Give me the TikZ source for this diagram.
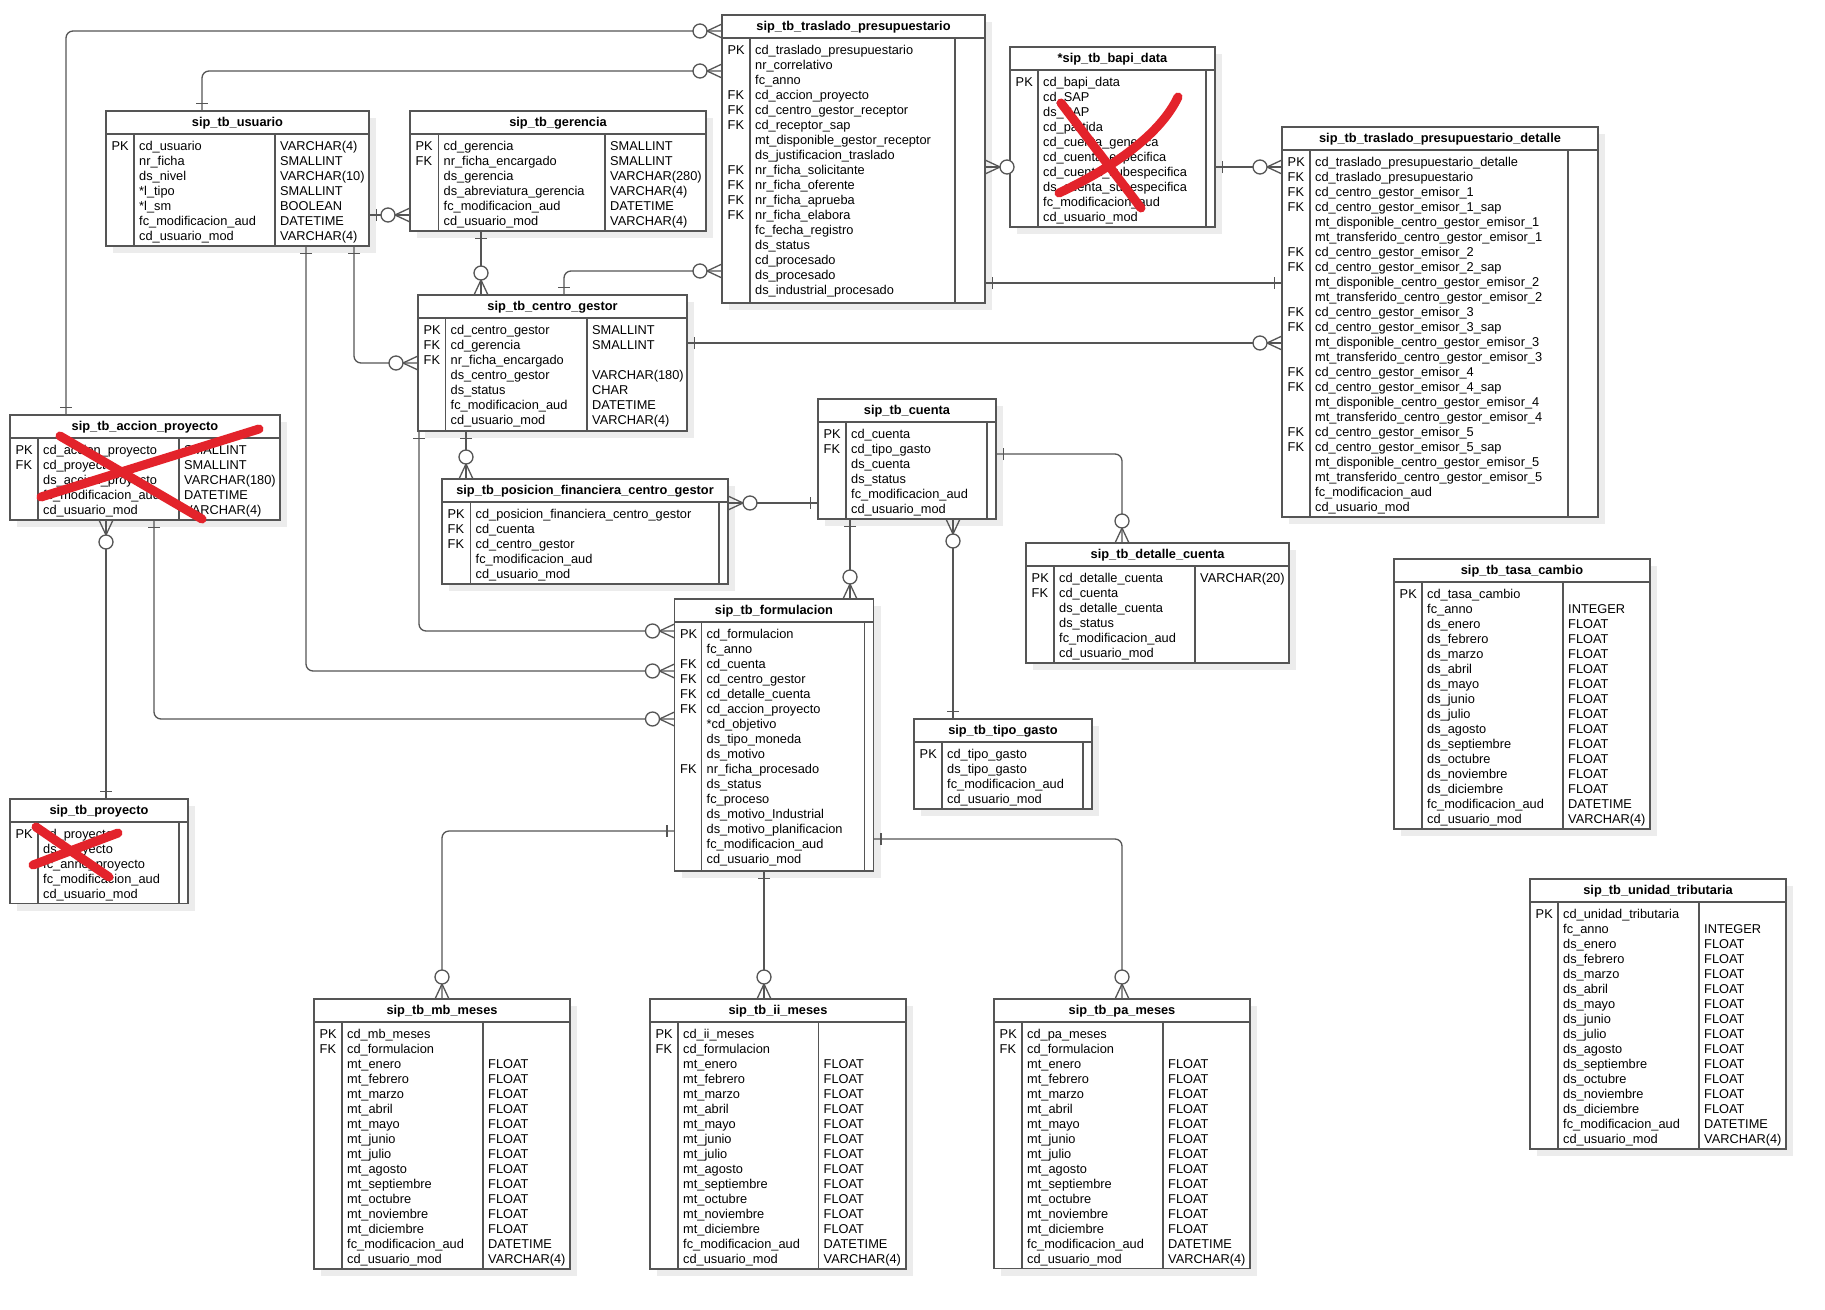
\documentclass[tikz,border=0pt]{standalone}
\usepackage{fontspec}
\setmainfont{Liberation Sans}
\usetikzlibrary{calc}

\definecolor{ln}{HTML}{555555}
\definecolor{shd}{HTML}{ECECEC}
\definecolor{redx}{HTML}{E3232B}

\tikzset{
  tline/.style={draw=ln, line width=1.3pt},
  tbox/.style={draw=ln, line width=1.3pt, fill=white, rectangle, inner sep=0pt, outer sep=0pt},
  conn/.style={draw=ln, line width=1.3pt},
  ttitle/.style={font=\fontsize{12.8}{15}\selectfont\bfseries, inner sep=0pt, anchor=base},
  cell/.style={font=\fontsize{12.8}{15}\selectfont, inner sep=0pt, anchor=base west},
  xmark/.style={draw=redx, line width=9pt, line cap=round},
}

% table frame: name, left, top, right, bottom, key divider, second divider, title
\newcommand{\entity}[8]{%
  \fill[shd] ({#2+7},{#3+7}) rectangle ({#4+7},{#5+7});
  \node[tbox, anchor=north west, minimum width={#4-(#2)}, minimum height={#5-(#3)}] (#1) at (#2,#3) {};
  \draw[tline] (#2,{#3+23}) -- (#4,{#3+23});
  \draw[tline] (#6,{#3+23}) -- (#6,#5);
  \draw[tline] (#7,{#3+23}) -- (#7,#5);
  \node[ttitle] at ({(#2+#4)/2},{#3+15.5}) {#8};
  \def\eL{#2}\def\eT{#3}\def\eP{#6}\def\eD{#7}%
}
% columns of the last table: keys, field names, types
\newcommand{\fields}[3]{%
  \foreach \fv [count=\rowi] in {#1} {\node[cell] at ({\eL+5.5},{\eT+39.7+(\rowi-1)*15}) {\fv};}
  \foreach \fv [count=\rowi] in {#2} {\node[cell] at ({\eP+5},{\eT+39.7+(\rowi-1)*15}) {\fv};}
  \if\relax\detokenize{#3}\relax\else
  \foreach \fv [count=\rowi] in {#3} {\node[cell] at ({\eD+5},{\eT+39.7+(\rowi-1)*15}) {\fv};}
  \fi
}
% relationship ends: point on the box edge, direction away from the box
\newcommand{\one}[3]{%
  \path #1 coordinate (ep);
  \draw[conn] ($(ep)+({(#2)*7.5+(#3)*6},{(#3)*7.5+(#2)*6})$) -- ($(ep)+({(#2)*7.5-(#3)*6},{(#3)*7.5-(#2)*6})$);
}
\newcommand{\many}[3]{%
  \path #1 coordinate (ep);
  \draw[conn] ($(ep)+({(#3)*7},{(#2)*7})$) -- ($(ep)+({(#2)*15},{(#3)*15})$) -- ($(ep)-({(#3)*7},{(#2)*7})$);
  \draw[conn, fill=white] ($(ep)+({(#2)*22},{(#3)*22})$) circle[radius=7];
}

\begin{document}
\begin{tikzpicture}[x=1pt,y=-1pt]
\useasboundingbox (0,0) rectangle (1825,1309);
\fill[white] (0,0) rectangle (1825,1309);

% ---------------- tables ----------------
\entity{trasl}{722}{15}{985}{303}{750}{955}{sip\_tb\_traslado\_presupuestario}
\fields{PK,,,FK,FK,FK,,,FK,FK,FK,FK}{cd\_traslado\_presupuestario,nr\_correlativo,fc\_anno,cd\_accion\_proyecto,cd\_centro\_gestor\_receptor,cd\_receptor\_sap,mt\_disponible\_gestor\_receptor,ds\_justificacion\_traslado,nr\_ficha\_solicitante,nr\_ficha\_oferente,nr\_ficha\_aprueba,nr\_ficha\_elabora,fc\_fecha\_registro,ds\_status,cd\_procesado,ds\_procesado,ds\_industrial\_procesado}{}

\entity{bapi}{1010}{47}{1215}{227}{1038}{1206}{*sip\_tb\_bapi\_data}
\fields{PK}{cd\_bapi\_data,cd\_SAP,ds\_SAP,cd\_partida,cd\_cuenta\_generica,cd\_cuenta\_especifica,cd\_cuenta\_subespecifica,ds\_cuenta\_subespecifica,fc\_modificacion\_aud,cd\_usuario\_mod}{}

\entity{det}{1282}{127}{1598}{517}{1310}{1568}{sip\_tb\_traslado\_presupuestario\_detalle}
\fields{PK,FK,FK,FK,,,FK,FK,,,FK,FK,,,FK,FK,,,FK,FK}{cd\_traslado\_presupuestario\_detalle,cd\_traslado\_presupuestario,cd\_centro\_gestor\_emisor\_1,cd\_centro\_gestor\_emisor\_1\_sap,mt\_disponible\_centro\_gestor\_emisor\_1,mt\_transferido\_centro\_gestor\_emisor\_1,cd\_centro\_gestor\_emisor\_2,cd\_centro\_gestor\_emisor\_2\_sap,mt\_disponible\_centro\_gestor\_emisor\_2,mt\_transferido\_centro\_gestor\_emisor\_2,cd\_centro\_gestor\_emisor\_3,cd\_centro\_gestor\_emisor\_3\_sap,mt\_disponible\_centro\_gestor\_emisor\_3,mt\_transferido\_centro\_gestor\_emisor\_3,cd\_centro\_gestor\_emisor\_4,cd\_centro\_gestor\_emisor\_4\_sap,mt\_disponible\_centro\_gestor\_emisor\_4,mt\_transferido\_centro\_gestor\_emisor\_4,cd\_centro\_gestor\_emisor\_5,cd\_centro\_gestor\_emisor\_5\_sap,mt\_disponible\_centro\_gestor\_emisor\_5,mt\_transferido\_centro\_gestor\_emisor\_5,fc\_modificacion\_aud,cd\_usuario\_mod}{}

\entity{usu}{106}{111}{369}{246}{134}{275}{sip\_tb\_usuario}
\fields{PK}{cd\_usuario,nr\_ficha,ds\_nivel,*l\_tipo,*l\_sm,fc\_modificacion\_aud,cd\_usuario\_mod}{VARCHAR(4),SMALLINT,VARCHAR(10),SMALLINT,BOOLEAN,DATETIME,VARCHAR(4)}

\entity{ger}{410}{111}{706}{231}{438.5}{605}{sip\_tb\_gerencia}
\fields{PK,FK}{cd\_gerencia,nr\_ficha\_encargado,ds\_gerencia,ds\_abreviatura\_gerencia,fc\_modificacion\_aud,cd\_usuario\_mod}{SMALLINT,SMALLINT,VARCHAR(280),VARCHAR(4),DATETIME,VARCHAR(4)}

\entity{cg}{418}{295}{687}{431}{445.5}{587}{sip\_tb\_centro\_gestor}
\fields{PK,FK,FK}{cd\_centro\_gestor,cd\_gerencia,nr\_ficha\_encargado,ds\_centro\_gestor,ds\_status,fc\_modificacion\_aud,cd\_usuario\_mod}{SMALLINT,SMALLINT,,VARCHAR(180),CHAR,DATETIME,VARCHAR(4)}

\entity{acc}{10}{415}{280}{520}{38}{179}{sip\_tb\_accion\_proyecto}
\fields{PK,FK}{cd\_accion\_proyecto,cd\_proyecto,ds\_accion\_proyecto,fc\_modificacion\_aud,cd\_usuario\_mod}{SMALLINT,SMALLINT,VARCHAR(180),DATETIME,VARCHAR(4)}

\entity{pos}{442}{479}{728}{584}{470.5}{719}{sip\_tb\_posicion\_financiera\_centro\_gestor}
\fields{PK,FK,FK}{cd\_posicion\_financiera\_centro\_gestor,cd\_cuenta,cd\_centro\_gestor,fc\_modificacion\_aud,cd\_usuario\_mod}{}

\entity{cta}{818}{399}{996}{519}{846}{987}{sip\_tb\_cuenta}
\fields{PK,FK}{cd\_cuenta,cd\_tipo\_gasto,ds\_cuenta,ds\_status,fc\_modificacion\_aud,cd\_usuario\_mod}{}

\entity{dcta}{1026}{543}{1289}{663}{1054}{1195}{sip\_tb\_detalle\_cuenta}
\fields{PK,FK}{cd\_detalle\_cuenta,cd\_cuenta,ds\_detalle\_cuenta,ds\_status,fc\_modificacion\_aud,cd\_usuario\_mod}{VARCHAR(20)}

\entity{form}{674.5}{599}{873.5}{871}{701.5}{864.5}{sip\_tb\_formulacion}
\fields{PK,,FK,FK,FK,FK,,,,FK}{cd\_formulacion,fc\_anno,cd\_cuenta,cd\_centro\_gestor,cd\_detalle\_cuenta,cd\_accion\_proyecto,*cd\_objetivo,ds\_tipo\_moneda,ds\_motivo,nr\_ficha\_procesado,ds\_status,fc\_proceso,ds\_motivo\_Industrial,ds\_motivo\_planificacion,fc\_modificacion\_aud,cd\_usuario\_mod}{}

\entity{proy}{10}{799}{188}{903.5}{38}{179}{sip\_tb\_proyecto}
\fields{PK}{cd\_proyecto,ds\_proyecto,fc\_anno\_proyecto,fc\_modificacion\_aud,cd\_usuario\_mod}{}

\entity{tg}{914}{719}{1092}{809}{942}{1083}{sip\_tb\_tipo\_gasto}
\fields{PK}{cd\_tipo\_gasto,ds\_tipo\_gasto,fc\_modificacion\_aud,cd\_usuario\_mod}{}

\entity{mb}{314}{999}{570}{1269}{342}{483}{sip\_tb\_mb\_meses}
\fields{PK,FK}{cd\_mb\_meses,cd\_formulacion,mt\_enero,mt\_febrero,mt\_marzo,mt\_abril,mt\_mayo,mt\_junio,mt\_julio,mt\_agosto,mt\_septiembre,mt\_octubre,mt\_noviembre,mt\_diciembre,fc\_modificacion\_aud,cd\_usuario\_mod}{,,FLOAT,FLOAT,FLOAT,FLOAT,FLOAT,FLOAT,FLOAT,FLOAT,FLOAT,FLOAT,FLOAT,FLOAT,DATETIME,VARCHAR(4)}

\entity{ii}{650}{999}{906}{1269}{678}{818.5}{sip\_tb\_ii\_meses}
\fields{PK,FK}{cd\_ii\_meses,cd\_formulacion,mt\_enero,mt\_febrero,mt\_marzo,mt\_abril,mt\_mayo,mt\_junio,mt\_julio,mt\_agosto,mt\_septiembre,mt\_octubre,mt\_noviembre,mt\_diciembre,fc\_modificacion\_aud,cd\_usuario\_mod}{,,FLOAT,FLOAT,FLOAT,FLOAT,FLOAT,FLOAT,FLOAT,FLOAT,FLOAT,FLOAT,FLOAT,FLOAT,DATETIME,VARCHAR(4)}

\entity{pa}{994}{999}{1250}{1268.5}{1022}{1163}{sip\_tb\_pa\_meses}
\fields{PK,FK}{cd\_pa\_meses,cd\_formulacion,mt\_enero,mt\_febrero,mt\_marzo,mt\_abril,mt\_mayo,mt\_junio,mt\_julio,mt\_agosto,mt\_septiembre,mt\_octubre,mt\_noviembre,mt\_diciembre,fc\_modificacion\_aud,cd\_usuario\_mod}{,,FLOAT,FLOAT,FLOAT,FLOAT,FLOAT,FLOAT,FLOAT,FLOAT,FLOAT,FLOAT,FLOAT,FLOAT,DATETIME,VARCHAR(4)}

\entity{tc}{1394}{559}{1650}{829}{1422}{1563}{sip\_tb\_tasa\_cambio}
\fields{PK}{cd\_tasa\_cambio,fc\_anno,ds\_enero,ds\_febrero,ds\_marzo,ds\_abril,ds\_mayo,ds\_junio,ds\_julio,ds\_agosto,ds\_septiembre,ds\_octubre,ds\_noviembre,ds\_diciembre,fc\_modificacion\_aud,cd\_usuario\_mod}{,INTEGER,FLOAT,FLOAT,FLOAT,FLOAT,FLOAT,FLOAT,FLOAT,FLOAT,FLOAT,FLOAT,FLOAT,FLOAT,DATETIME,VARCHAR(4)}

\entity{ut}{1530}{879}{1786}{1149}{1558}{1699}{sip\_tb\_unidad\_tributaria}
\fields{PK}{cd\_unidad\_tributaria,fc\_anno,ds\_enero,ds\_febrero,ds\_marzo,ds\_abril,ds\_mayo,ds\_junio,ds\_julio,ds\_agosto,ds\_septiembre,ds\_octubre,ds\_noviembre,ds\_diciembre,fc\_modificacion\_aud,cd\_usuario\_mod}{,INTEGER,FLOAT,FLOAT,FLOAT,FLOAT,FLOAT,FLOAT,FLOAT,FLOAT,FLOAT,FLOAT,FLOAT,FLOAT,DATETIME,VARCHAR(4)}

% ---------------- relationships ----------------
\coordinate (c1a) at ($(acc.north west)+(56,0)$);
\coordinate (c1b) at ($(trasl.north west)+(0,16)$);
\draw[conn, rounded corners=7] (c1a) |- (c1b);
\one{(c1a)}{0}{-1} \many{(c1b)}{-1}{0}

\coordinate (c2a) at ($(usu.north west)+(96,0)$);
\coordinate (c2b) at ($(trasl.north west)+(0,56)$);
\draw[conn, rounded corners=7] (c2a) |- (c2b);
\one{(c2a)}{0}{-1} \many{(c2b)}{-1}{0}

\coordinate (c3a) at ($(cg.north west)+(146,0)$);
\coordinate (c3b) at ($(trasl.north west)+(0,256)$);
\draw[conn, rounded corners=7] (c3a) |- (c3b);
\one{(c3a)}{0}{-1} \many{(c3b)}{-1}{0}

\coordinate (c4a) at ($(usu.north east)+(0,104)$);
\coordinate (c4b) at ($(ger.north west)+(0,104)$);
\draw[conn] (c4a) -- (c4b);
\one{(c4a)}{1}{0} \many{(c4b)}{-1}{0}

\coordinate (c5a) at ($(ger.south west)+(71,0)$);
\coordinate (c5b) at ($(cg.north west)+(63,0)$);
\draw[conn] (c5a) -- (c5b);
\one{(c5a)}{0}{1} \many{(c5b)}{0}{-1}

\coordinate (c6a) at ($(usu.south west)+(200,0)$);
\coordinate (c6b) at ($(form.north west)+(0,72)$);
\draw[conn, rounded corners=7] (c6a) |- (c6b);
\one{(c6a)}{0}{1} \many{(c6b)}{-1}{0}

\coordinate (c7a) at ($(usu.south west)+(248,0)$);
\coordinate (c7b) at ($(cg.north west)+(0,68)$);
\draw[conn, rounded corners=7] (c7a) |- (c7b);
\one{(c7a)}{0}{1} \many{(c7b)}{-1}{0}

\coordinate (c8a) at ($(cg.north east)+(0,48)$);
\coordinate (c8b) at ($(det.north west)+(0,216)$);
\draw[conn] (c8a) -- (c8b);
\one{(c8a)}{1}{0} \many{(c8b)}{-1}{0}

\coordinate (c9a) at ($(trasl.north east)+(0,268)$);
\coordinate (c9b) at ($(det.north west)+(0,156)$);
\draw[conn] (c9a) -- (c9b);
\one{(c9a)}{1}{0} \one{(c9b)}{-1}{0}

\coordinate (c10a) at ($(trasl.north east)+(0,152)$);
\coordinate (c10b) at ($(bapi.north west)+(0,120)$);
\draw[conn] (c10a) -- (c10b);
\many{(c10a)}{1}{0}

\coordinate (c11a) at ($(bapi.north east)+(0,120)$);
\coordinate (c11b) at ($(det.north west)+(0,40)$);
\draw[conn] (c11a) -- (c11b);
\one{(c11a)}{1}{0} \many{(c11b)}{-1}{0}

\coordinate (c12a) at ($(cg.south west)+(48,0)$);
\coordinate (c12b) at ($(pos.north west)+(24,0)$);
\draw[conn] (c12a) -- (c12b);
\one{(c12a)}{0}{1} \many{(c12b)}{0}{-1}

\coordinate (c13a) at ($(cg.south west)+(1,0)$);
\coordinate (c13b) at ($(form.north west)+(0,32)$);
\draw[conn, rounded corners=7] (c13a) |- (c13b);
\one{(c13a)}{0}{1} \many{(c13b)}{-1}{0}

\coordinate (c14a) at ($(pos.north east)+(0,24)$);
\coordinate (c14b) at ($(cta.north west)+(0,104)$);
\draw[conn] (c14a) -- (c14b);
\many{(c14a)}{1}{0} \one{(c14b)}{-1}{0}

\coordinate (c15a) at ($(cta.south west)+(32,0)$);
\coordinate (c15b) at ($(form.north west)+(175.5,0)$);
\draw[conn] (c15a) -- (c15b);
\one{(c15a)}{0}{1} \many{(c15b)}{0}{-1}

\coordinate (c16a) at ($(cta.south west)+(135,0)$);
\coordinate (c16b) at ($(tg.north west)+(39,0)$);
\draw[conn] (c16a) -- (c16b);
\many{(c16a)}{0}{1} \one{(c16b)}{0}{-1}

\coordinate (c17a) at ($(cta.north east)+(0,55)$);
\coordinate (c17b) at ($(dcta.north west)+(96,0)$);
\draw[conn, rounded corners=7] (c17a) -| (c17b);
\one{(c17a)}{1}{0} \many{(c17b)}{0}{-1}

\coordinate (c18a) at ($(form.south west)+(89.5,0)$);
\coordinate (c18b) at ($(ii.north west)+(114,0)$);
\draw[conn] (c18a) -- (c18b);
\one{(c18a)}{0}{1} \many{(c18b)}{0}{-1}

\coordinate (c19a) at ($(form.north west)+(0,232)$);
\coordinate (c19b) at ($(mb.north west)+(128,0)$);
\draw[conn, rounded corners=7] (c19a) -| (c19b);
\one{(c19a)}{-1}{0} \many{(c19b)}{0}{-1}

\coordinate (c20a) at ($(form.north east)+(0,240)$);
\coordinate (c20b) at ($(pa.north west)+(128,0)$);
\draw[conn, rounded corners=7] (c20a) -| (c20b);
\one{(c20a)}{1}{0} \many{(c20b)}{0}{-1}

\coordinate (c21a) at ($(acc.south west)+(96,0)$);
\coordinate (c21b) at ($(proy.north west)+(96,0)$);
\draw[conn] (c21a) -- (c21b);
\many{(c21a)}{0}{1} \one{(c21b)}{0}{-1}

\coordinate (c22a) at ($(acc.south west)+(144,0)$);
\coordinate (c22b) at ($(form.north west)+(0,120)$);
\draw[conn, rounded corners=7] (c22a) |- (c22b);
\one{(c22a)}{0}{1} \many{(c22b)}{-1}{0}

% ---------------- crossed-out tables ----------------
\draw[xmark] (259,429) -- (41,497);
\draw[xmark] (60,436) -- (202,519);
\draw[xmark] (1178,97) .. controls (1160,135) and (1112,168) .. (1059,193);
\draw[xmark] (1061,103) -- (1141,208);
\draw[xmark] (118,833) -- (33,865);
\draw[xmark] (36,827) -- (109,877);
\end{tikzpicture}
\end{document}
